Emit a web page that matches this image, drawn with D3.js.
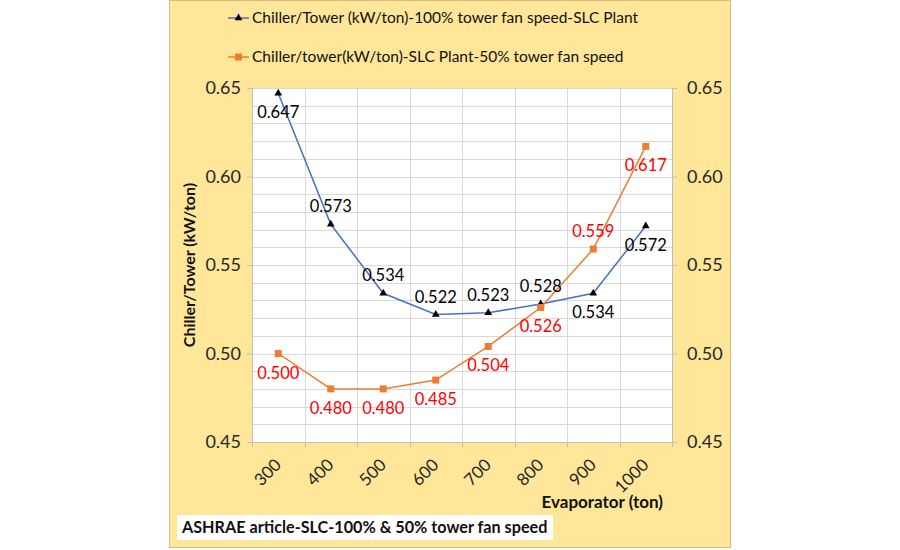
<!DOCTYPE html>
<html>
<head>
<meta charset="utf-8">
<script src="https://cdn.jsdelivr.net/npm/d3@7"></script>
<style>
  html, body { margin: 0; padding: 0; background: #fff; }
  svg { display: block; font-family: Lato, "Open Sans", sans-serif; }
</style>
</head>
<body>
<div id="chart"></div>
<script>
// Chiller/Tower kW/ton vs evaporator load — two tower fan speeds

const categories = [300, 400, 500, 600, 700, 800, 900, 1000];
const full = [0.647, 0.573, 0.534, 0.522, 0.523, 0.528, 0.534, 0.572];
const half = [0.500, 0.480, 0.480, 0.485, 0.504, 0.526, 0.559, 0.617];
const yTicks = [0.45, 0.50, 0.55, 0.60, 0.65];
const seriesNames = [
  'Chiller/Tower (kW/ton)-100% tower fan speed-SLC Plant',
  'Chiller/tower(kW/ton)-SLC Plant-50% tower fan speed'
];
// label placement per point: 'a' above, 'b' below
const fullPos = ['b', 'a', 'a', 'a', 'a', 'a', 'b', 'b'];
const halfPos = ['b', 'b', 'b', 'b', 'b', 'b', 'a', 'b'];

const W = 900, H = 550;
const plot = { left: 252, right: 672, top: 88, bottom: 442 };

const svg = d3.select('#chart').append('svg').attr('width', W).attr('height', H);

// yellow chart background
svg.append('rect')
  .attr('x', 169.5).attr('y', 0.5).attr('width', 561).attr('height', 547)
  .attr('fill', '#FFE699').attr('stroke', '#D8BE7A');

svg.append('rect')
  .attr('x', plot.left).attr('y', plot.top)
  .attr('width', plot.right - plot.left).attr('height', plot.bottom - plot.top)
  .attr('fill', '#fff');

const x = d3.scaleBand().domain(categories).range([plot.left, plot.right]).padding(0);
const y = d3.scaleLinear().domain([0.45, 0.65]).range([plot.bottom, plot.top]);
const cx = d => x(d) + x.bandwidth() / 2;

// gridlines
const g = svg.append('g');
g.selectAll('.hg').data(d3.range(0, 21).map(i => 0.45 + i * 0.01)).join('line')
  .attr('x1', plot.left).attr('x2', plot.right)
  .attr('y1', d => Math.round(y(d)) + 0.5).attr('y2', d => Math.round(y(d)) + 0.5)
  .attr('stroke', '#D9D9D9').attr('stroke-width', 1);
g.selectAll('.vg').data(categories.slice(1)).join('line')
  .attr('x1', d => Math.round(x(d)) + 0.5).attr('x2', d => Math.round(x(d)) + 0.5)
  .attr('y1', plot.top).attr('y2', plot.bottom)
  .attr('stroke', '#D9D9D9');

// axes
const yLeft = d3.axisLeft(y).tickValues(yTicks).tickFormat(d3.format('.2f')).tickSize(5).tickPadding(6);
const yRight = d3.axisRight(y).tickValues(yTicks).tickFormat(d3.format('.2f')).tickSize(5).tickPadding(10);
const xAxis = d3.axisBottom(x).tickSize(0).tickFormat(d => d);

function styleAxis(sel, size) {
  sel.select('.domain').attr('stroke', '#BFBFBF');
  sel.selectAll('.tick line').attr('stroke', '#BFBFBF');
  sel.selectAll('.tick text').attr('fill', '#262626').style('font-size', size + 'px')
    .style('font-family', 'Lato, sans-serif');
}

svg.append('g').attr('transform', `translate(${plot.left},0)`).call(yLeft).call(styleAxis, 18);
svg.append('g').attr('transform', `translate(${plot.right},0)`).call(yRight).call(styleAxis, 18);

const gx = svg.append('g').attr('transform', `translate(0,${plot.bottom})`).call(xAxis).call(styleAxis, 17);
// category tick marks sit on the band boundaries
gx.selectAll('.bt').data(categories.concat(['end'])).join('line')
  .attr('x1', (d, i) => Math.round(plot.left + i * x.bandwidth()) + 0.5)
  .attr('x2', (d, i) => Math.round(plot.left + i * x.bandwidth()) + 0.5)
  .attr('y1', 0).attr('y2', 5).attr('stroke', '#BFBFBF');
gx.selectAll('.tick text')
  .attr('text-anchor', 'end')
  .attr('dy', null).attr('y', null)
  .attr('transform', 'translate(4,24) rotate(-45)');

// axis titles
svg.append('text')
  .attr('transform', 'translate(195,265) rotate(-90)')
  .attr('text-anchor', 'middle')
  .style('font-size', '16px').style('font-weight', 'bold').attr('fill', '#111')
  .text('Chiller/Tower (kW/ton)');

svg.append('text')
  .attr('x', 663).attr('y', 508).attr('text-anchor', 'end')
  .style('font-size', '17px').style('font-weight', 'bold').attr('fill', '#111')
  .text('Evaporator (ton)');

// series
const line = d3.line().x((d, i) => cx(categories[i])).y(d => y(d));

svg.append('path').datum(full).attr('d', line)
  .attr('fill', 'none').attr('stroke', '#4472C4').attr('stroke-width', 1.5);
svg.append('path').datum(half).attr('d', line)
  .attr('fill', 'none').attr('stroke', '#ED7D31').attr('stroke-width', 1.5);

const tri = d3.symbol().type(d3.symbolTriangle).size(26);
svg.selectAll('.m1').data(full).join('path')
  .attr('d', tri)
  .attr('transform', (d, i) => `translate(${cx(categories[i])},${y(d)})`)
  .attr('fill', '#000');

svg.selectAll('.m2').data(half).join('rect')
  .attr('x', (d, i) => cx(categories[i]) - 3.5).attr('y', d => y(d) - 3.5)
  .attr('width', 7).attr('height', 7)
  .attr('fill', '#ED7D31');

function labels(vals, pos, color) {
  svg.append('g').selectAll('text').data(vals).join('text')
    .attr('x', (d, i) => cx(categories[i]))
    .attr('y', (d, i) => y(d) + (pos[i] === 'a' ? -12 : 25))
    .attr('text-anchor', 'middle')
    .style('font-size', '16.5px').attr('fill', color)
    .text(d => d3.format('.3f')(d));
}
labels(full, fullPos, '#000');
labels(half, halfPos, '#FF0000');

// legend
const legend = svg.append('g');
const colors = ['#4472C4', '#ED7D31'];
seriesNames.forEach((name, i) => {
  const ly = 18 + i * 39;
  legend.append('line').attr('x1', 228).attr('x2', 249).attr('y1', ly).attr('y2', ly)
    .attr('stroke', colors[i]).attr('stroke-width', 1.5);
  if (i === 0) {
    legend.append('path').attr('d', tri).attr('transform', `translate(238.5,${ly})`).attr('fill', '#000');
  } else {
    legend.append('rect').attr('x', 235).attr('y', ly - 3.5).attr('width', 7).attr('height', 7).attr('fill', colors[i]);
  }
  legend.append('text').attr('x', 252).attr('y', ly).attr('dy', '0.35em')
    .style('font-size', '15.5px').attr('fill', '#111').text(name);
});

// note box
svg.append('rect').attr('x', 177).attr('y', 515).attr('width', 376).attr('height', 25).attr('fill', '#fff');
svg.append('text').attr('x', 182).attr('y', 533)
  .style('font-size', '16.2px').style('font-weight', 'bold').attr('fill', '#111')
  .text('ASHRAE article-SLC-100% & 50% tower fan speed');
</script>
</body>
</html>
